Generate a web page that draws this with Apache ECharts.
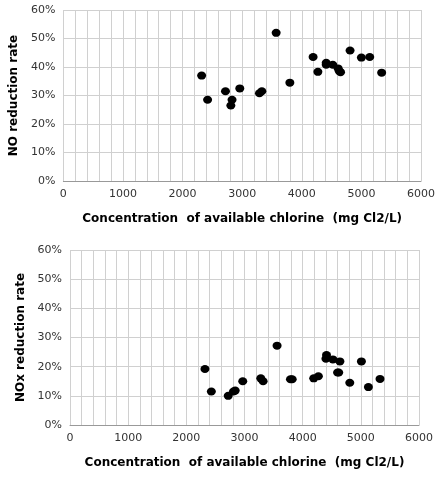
<!DOCTYPE html><html><head><meta charset="utf-8"><script src="https://cdn.jsdelivr.net/npm/echarts@6/dist/echarts.min.js"></script>
<style>html,body{margin:0;padding:0;background:#fff}#c{width:441px;height:477px}</style></head><body><div id="c"></div><script>
const noX=[2320,2420,2720,2810,2830,2960,3290,3330,3570,3800,4190,4270,4410,4410,4520,4610,4630,4650,4810,5000,5140,5340];
const noY=[37,28.5,31.5,26.5,28.5,32.5,30.8,31.5,52,34.5,43.5,38.3,41.5,40.8,40.8,39.5,38.5,38.2,45.8,43.3,43.5,38];
const noxX=[2320,2430,2720,2810,2840,2970,3280,3320,3560,3790,3820,4190,4270,4400,4410,4520,4600,4620,4640,4810,5010,5130,5330];
const noxY=[19.2,11.5,10,11.5,11.8,15,16,15,27.2,15.7,15.7,16,16.7,22.7,24,22.5,18,18,21.8,14.5,21.8,13,15.8];
const xTitle='Concentration  of available chlorine  (mg Cl2/L)';
const lab={color:'#333',fontSize:11,fontFamily:'DejaVu Sans'};
const tit={color:'#000',fontSize:12,fontWeight:'bold',fontFamily:'DejaVu Sans'};
function xa(i){return {gridIndex:i,type:'value',min:0,max:6000,interval:1000,name:xTitle,nameLocation:'middle',nameGap:32,nameTextStyle:tit,
 axisLine:{lineStyle:{color:'#999'}},axisTick:{show:false},axisLabel:Object.assign({formatter:v=>String(v)},lab),splitLine:{show:true,lineStyle:{color:'#d0d0d0'}},
 minorTick:{show:false,splitNumber:5},minorSplitLine:{show:true,lineStyle:{color:'#d0d0d0'}}};}
function ya(i,n){return {gridIndex:i,type:'value',min:0,max:60,interval:10,name:n,nameLocation:'middle',nameGap:40,nameTextStyle:tit,
 axisLine:{show:false},axisTick:{show:false},axisLabel:Object.assign({formatter:'{value}%'},lab),splitLine:{lineStyle:{color:'#d0d0d0'}}};}
const ch=echarts.init(document.getElementById('c'));
ch.setOption({animation:false,
grid:[{left:61,right:20,top:10,bottom:296},{left:70,right:22,top:250,bottom:52}],
xAxis:[xa(0),xa(1)],yAxis:[ya(0,'NO reduction rate'),ya(1,'NOx reduction rate')],
series:[{type:'scatter',xAxisIndex:0,yAxisIndex:0,data:noX.map((x,i)=>[x,noY[i]]),symbolSize:[9,8],itemStyle:{color:'#000',opacity:1}},
{type:'scatter',xAxisIndex:1,yAxisIndex:1,data:noxX.map((x,i)=>[x,noxY[i]]),symbolSize:[9,8],itemStyle:{color:'#000',opacity:1}}]});
</script></body></html>
